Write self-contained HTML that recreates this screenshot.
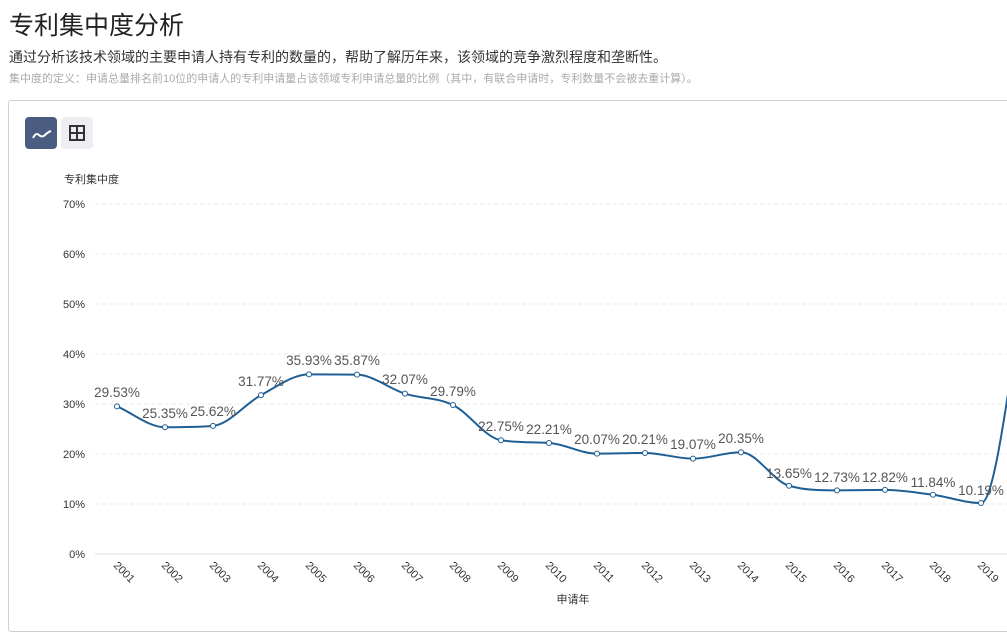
<!DOCTYPE html>
<html><head><meta charset="utf-8"><style>
body{margin:0;width:1007px;height:610px;overflow:hidden;background:#fff;font-family:"Liberation Sans","Noto Sans CJK SC",sans-serif;position:relative}
.t{position:absolute;left:9px;top:6px;font-size:25px;color:#222}
.d1{position:absolute;left:9px;top:47px;font-size:14px;color:#333}
.d2{position:absolute;left:9px;top:70px;font-size:11px;color:#aaa}
.box{position:absolute;left:8px;top:100px;width:1010px;height:530px;border:1px solid #d0d0d0;border-radius:3px}
.b1{position:absolute;left:25px;top:117px;width:32px;height:32px;background:#4a5c80;border-radius:4px}
.b2{position:absolute;left:61px;top:117px;width:32px;height:32px;background:#eceef2;border-radius:4px}
svg{position:absolute;left:0;top:0}
</style></head><body>
<div class="t">专利集中度分析</div>
<div class="d1">通过分析该技术领域的主要申请人持有专利的数量的，帮助了解历年来，该领域的竞争激烈程度和垄断性。</div>
<div class="d2">集中度的定义：申请总量排名前10位的申请人的专利申请量占该领域专利申请总量的比例（其中，有联合申请时，专利数量不会被去重计算）。</div>
<div class="box"></div>
<div class="b1"></div><div class="b2"></div>
<svg width="1007" height="610" font-family="Liberation Sans, Noto Sans CJK SC, sans-serif">
<path d="M33 138 q3-6 6-3 t6 0 t6-4" fill="none" stroke="#fff" stroke-width="2"/>
<rect x="70" y="126" width="14" height="14" fill="none" stroke="#333" stroke-width="2"/>
<line x1="77" y1="126" x2="77" y2="140" stroke="#333" stroke-width="2"/><line x1="70" y1="133" x2="84" y2="133" stroke="#333" stroke-width="2"/>
<text x="64" y="183" font-size="11" fill="#333">专利集中度</text>
<g stroke="#e8e8e8" stroke-dasharray="4,3">
<line x1="95" x2="1007" y1="204" y2="204"/><line x1="95" x2="1007" y1="254" y2="254"/><line x1="95" x2="1007" y1="304" y2="304"/><line x1="95" x2="1007" y1="354" y2="354"/><line x1="95" x2="1007" y1="404" y2="404"/><line x1="95" x2="1007" y1="454" y2="454"/><line x1="95" x2="1007" y1="504" y2="504"/>
</g>
<line x1="95" x2="1007" y1="554" y2="554" stroke="#ddd"/>
<g font-size="11" fill="#333" text-anchor="end">
<text x="85" y="208">70%</text><text x="85" y="258">60%</text><text x="85" y="308">50%</text><text x="85" y="358">40%</text><text x="85" y="408">30%</text><text x="85" y="458">20%</text><text x="85" y="508">10%</text><text x="85" y="558">0%</text>
</g>
<path id="ln" fill="none" stroke="#1f5f95" stroke-width="2"/>
<g id="dots" fill="#fff" stroke="#1f5f95" stroke-width="1"></g>
<g font-size="13.5" fill="#555" text-anchor="middle">
<text x="117" y="397">29.53%</text><text x="165" y="418">25.35%</text><text x="213" y="416">25.62%</text><text x="261" y="386">31.77%</text><text x="309" y="365">35.93%</text><text x="357" y="365">35.87%</text><text x="405" y="384">32.07%</text><text x="453" y="396">29.79%</text><text x="501" y="431">22.75%</text><text x="549" y="434">22.21%</text><text x="597" y="444">20.07%</text><text x="645" y="444">20.21%</text><text x="693" y="449">19.07%</text><text x="741" y="443">20.35%</text><text x="789" y="478">13.65%</text><text x="837" y="482">12.73%</text><text x="885" y="482">12.82%</text><text x="933" y="487">11.84%</text><text x="981" y="495">10.19%</text>
</g>
<text x="573" y="603" font-size="11" fill="#333" text-anchor="middle">申请年</text>
</svg>
<svg width="1007" height="610" font-family="Liberation Sans, sans-serif" font-size="11" fill="#333">
<text transform="translate(113,566) rotate(45)">2001</text><text transform="translate(161,566) rotate(45)">2002</text><text transform="translate(209,566) rotate(45)">2003</text><text transform="translate(257,566) rotate(45)">2004</text><text transform="translate(305,566) rotate(45)">2005</text><text transform="translate(353,566) rotate(45)">2006</text><text transform="translate(401,566) rotate(45)">2007</text><text transform="translate(449,566) rotate(45)">2008</text><text transform="translate(497,566) rotate(45)">2009</text><text transform="translate(545,566) rotate(45)">2010</text><text transform="translate(593,566) rotate(45)">2011</text><text transform="translate(641,566) rotate(45)">2012</text><text transform="translate(689,566) rotate(45)">2013</text><text transform="translate(737,566) rotate(45)">2014</text><text transform="translate(785,566) rotate(45)">2015</text><text transform="translate(833,566) rotate(45)">2016</text><text transform="translate(881,566) rotate(45)">2017</text><text transform="translate(929,566) rotate(45)">2018</text><text transform="translate(977,566) rotate(45)">2019</text>
</svg>
<script>
var v=[29.53,25.35,25.62,31.77,35.93,35.87,32.07,29.79,22.75,22.21,20.07,20.21,19.07,20.35,13.65,12.73,12.82,11.84,10.19,58];
var p=v.map(function(a,i){return [117+48*i,554-a*5]});
var n=p.length,h=48,dl=[],m=[];
for(var i=0;i<n-1;i++)dl.push((p[i+1][1]-p[i][1])/h);
m[0]=dl[0];m[n-1]=dl[n-2];
for(i=1;i<n-1;i++){m[i]=(dl[i-1]*dl[i]<=0)?0:(dl[i-1]+dl[i])/2;}
for(i=0;i<n-1;i++){if(dl[i]==0){m[i]=m[i+1]=0;continue;}var a=m[i]/dl[i],b=m[i+1]/dl[i],s=a*a+b*b;if(s>9){var t=3/Math.sqrt(s);m[i]=t*a*dl[i];m[i+1]=t*b*dl[i];}}
var d="M"+p[0][0]+" "+p[0][1];
for(i=0;i<n-1;i++){d+=" C"+(p[i][0]+h/3)+" "+(p[i][1]+m[i]*h/3)+" "+(p[i+1][0]-h/3)+" "+(p[i+1][1]-m[i+1]*h/3)+" "+p[i+1][0]+" "+p[i+1][1];}
document.getElementById("ln").setAttribute("d",d);
var g=document.getElementById("dots"),s="";
p.forEach(function(q){s+='<circle cx="'+q[0]+'" cy="'+q[1]+'" r="2.5"/>'});g.innerHTML=s;
</script>
</body></html>
